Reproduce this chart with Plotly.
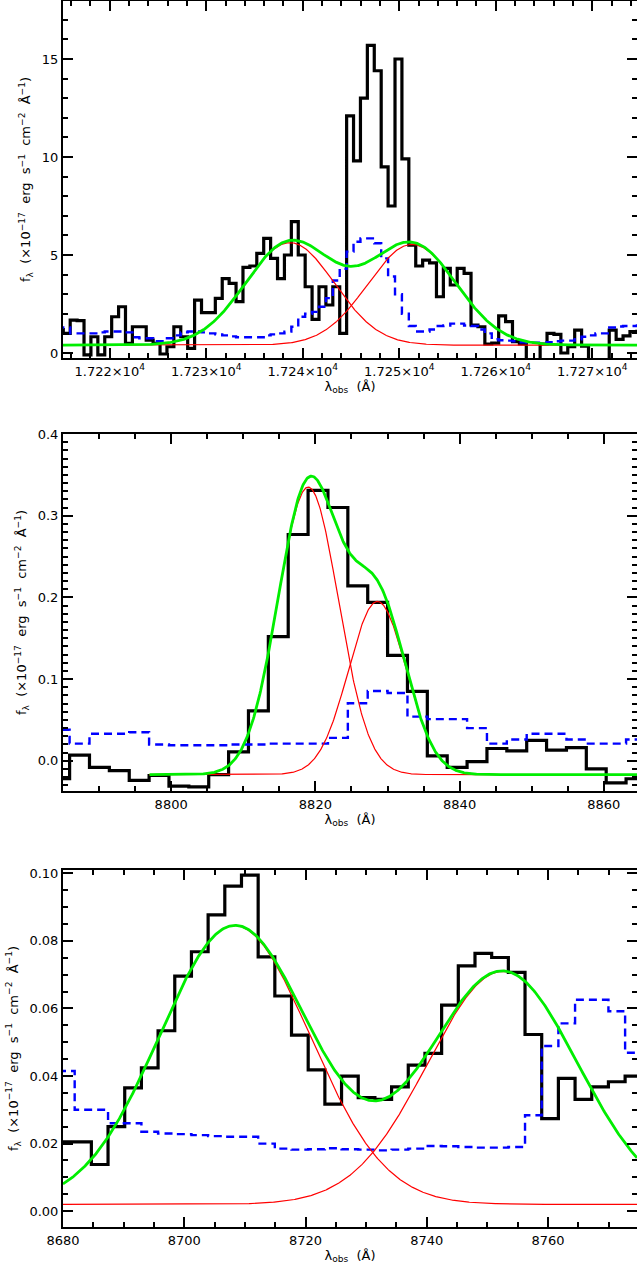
import numpy as np
import plotly.graph_objects as go

# ---------------- Panel 1 (around 1.724e4 A) ----------------
# pixel grid: left edge of first pixel and pixel width (Angstrom)
lam1_start, lam1_step = 17214.474, 0.716
flux1 = [1.2, 1.0, 1.68, 1.65, -0.1, 0.83, -0.1, 0.83, 1.85, 2.36,
         0.49, 1.34, 1.34, 0.66, 0.49, -0.05, 0.32, 1.34, 0.83, 0.24,
         2.7, 2.06, 2.06, 2.79, 3.8, 3.55, 2.62, 4.37, 4.44, 5.08,
         5.85, 4.83, 3.8, 5.0, 6.7, 5.0, 3.38, 1.72, 3.38, 2.45,
         3.38, 1.0, 12.1, 9.8, 13.0, 15.7, 14.4, 9.5, 7.5, 15.0,
         9.9, 5.5, 4.44, 4.74, 4.6, 2.87, 4.32, 3.47, 4.32, 4.06,
         1.43, 1.34, 0.46, 0.5, 1.89, 1.6, 0.58, 0.46, -0.5, -0.6,
         0.46, 1.0, 0.95, 0.0, 0.32, 1.17, 0.35, -0.4, -0.6, -0.5,
         1.17, 0.7, 0.87, 1.09, 1.1]
sky1 = [1.3, 1.3, 1.0, 1.0, 1.0, 1.0, 1.05, 1.1, 1.1, 1.1,
        1.05, 0.8, 0.75, 0.75, 0.6, 0.6, 0.75, 0.9, 1.05, 1.1,
        1.1, 1.05, 1.0, 0.95, 0.9, 0.85, 0.8, 0.8, 0.8, 0.8,
        0.9, 0.95, 1.0, 1.09, 1.34, 1.85, 2.0, 2.1, 2.36, 2.8,
        3.7, 4.3, 5.17, 5.68, 5.85, 5.85, 5.6, 4.83, 3.9, 3.0,
        2.0, 1.38, 1.1, 1.1, 1.2, 1.38, 1.4, 1.5, 1.5, 1.4,
        1.38, 1.2, 1.0, 0.7, 0.65, 0.63, 0.6, 0.55, 0.53, 0.53,
        0.53, 0.55, 0.6, 0.63, 0.63, 0.7, 0.83, 0.9, 1.0, 1.0,
        1.3, 1.35, 1.38, 1.38, 1.4]
fit1_cont = 0.4
fit1_center = [17238.67, 17251.33]
fit1_amp = [5.23, 5.14]
fit1_sigma = [4.6, 4.6]
x1_range = [17215.16, 17274.63]
y1_range = [-0.255, 17.96]
fit1_span = [17215.16, 17274.63]
x1_tickvals = [17220, 17230, 17240, 17250, 17260, 17270]
x1_ticktext = ["1.722×10<sup>4</sup>", "1.723×10<sup>4</sup>", "1.724×10<sup>4</sup>",
               "1.725×10<sup>4</sup>", "1.726×10<sup>4</sup>", "1.727×10<sup>4</sup>"]

# ---------------- Panel 2 (around 8820 A) ----------------
lam2_start, lam2_step = 8783.16, 2.756
flux2 = [-0.022, 0.007, -0.008, -0.012, -0.024, -0.018, -0.031, -0.032, -0.017, 0.011,
         0.061, 0.152, 0.277, 0.331, 0.310, 0.214, 0.194, 0.129, 0.085, 0.006,
         -0.008, -0.001, 0.015, 0.012, 0.025, 0.013, 0.016, -0.010, -0.027, -0.022]
sky2 = [0.038, 0.021, 0.033, 0.033, 0.035, 0.020, 0.019, 0.019, 0.019, 0.020,
        0.020, 0.021, 0.021, 0.021, 0.028, 0.0705, 0.0855, 0.083, 0.054, 0.051,
        0.051, 0.040, 0.021, 0.026, 0.033, 0.033, 0.026, 0.021, 0.021, 0.026]
fit2_cont = -0.017
fit2_center = [8819.0, 8828.6]
fit2_amp = [0.352, 0.212]
fit2_sigma = [4.2, 4.0]
x2_range = [8785.0, 8864.6]
y2_range = [-0.037, 0.4]
fit2_span = [8797.0, 8864.6]

# ---------------- Panel 3 (around 8730 A) ----------------
lam3_start, lam3_step = 8679.175, 2.751
flux3 = [0.0205, 0.0205, 0.0138, 0.025, 0.0365, 0.0424, 0.0534, 0.0696, 0.0768, 0.0877,
         0.0962, 0.0995, 0.0753, 0.0637, 0.0521, 0.0418, 0.0317, 0.040, 0.0336, 0.0331,
         0.0368, 0.0432, 0.0467, 0.061, 0.0726, 0.0763, 0.0751, 0.0707, 0.0523, 0.0274,
         0.0393, 0.0331, 0.0368, 0.0383, 0.040]
sky3 = [0.0415, 0.030, 0.030, 0.026, 0.026, 0.0235, 0.023, 0.0228, 0.0225, 0.0222,
        0.022, 0.022, 0.020, 0.0185, 0.0182, 0.0183, 0.0186, 0.0183, 0.0182, 0.0180,
        0.0182, 0.0185, 0.0193, 0.0192, 0.019, 0.0188, 0.0188, 0.019, 0.0284, 0.0489,
        0.0556, 0.0626, 0.0626, 0.0592, 0.0469]
fit3_cont = 0.002
fit3_center = [8708.33, 8752.51]
fit3_amp = [0.0825, 0.069]
fit3_sigma = [12.4, 12.35]
x3_range = [8680.0, 8774.67]
y3_range = [-0.0047, 0.101]
fit3_span = [8680.0, 8774.67]

# ---------------- figure ----------------
W, H = 637, 1270
fig = go.Figure()

FONT = "DejaVu Sans"


def step_xy(start, step, vals):
    edges = [start + step * i for i in range(len(vals) + 1)]
    return edges, list(vals) + [vals[-1]]


def gauss(x, c, a, s):
    return a * np.exp(-0.5 * ((x - c) / s) ** 2)


panels = [
    (lam1_start, lam1_step, flux1, sky1, fit1_cont, fit1_center, fit1_amp, fit1_sigma, fit1_span),
    (lam2_start, lam2_step, flux2, sky2, fit2_cont, fit2_center, fit2_amp, fit2_sigma, fit2_span),
    (lam3_start, lam3_step, flux3, sky3, fit3_cont, fit3_center, fit3_amp, fit3_sigma, fit3_span),
]

for i, (ls, st, fl, sk, cont, cen, amp, sig, span) in enumerate(panels):
    xa = "x" if i == 0 else f"x{i+1}"
    ya = "y" if i == 0 else f"y{i+1}"
    ex, ey = step_xy(ls, st, fl)
    fig.add_trace(go.Scatter(x=ex, y=ey, mode="lines", line=dict(color="black", width=3.2, shape="hv"),
                             xaxis=xa, yaxis=ya, showlegend=False))
    ex, ey = step_xy(ls, st, sk)
    fig.add_trace(go.Scatter(x=ex, y=ey, mode="lines",
                             line=dict(color="#0000ff", width=2.4, shape="hv", dash="8px,5px"),
                             xaxis=xa, yaxis=ya, showlegend=False))
    xm = np.linspace(span[0], span[1], 800)
    total = np.full_like(xm, cont)
    for c, a, s in zip(cen, amp, sig):
        g = gauss(xm, c, a, s)
        total = total + g
        fig.add_trace(go.Scatter(x=xm, y=cont + g, mode="lines", line=dict(color="#ff0000", width=1.2),
                                 xaxis=xa, yaxis=ya, showlegend=False))
    fig.add_trace(go.Scatter(x=xm, y=total, mode="lines", line=dict(color="#00ee00", width=2.8),
                             xaxis=xa, yaxis=ya, showlegend=False))

xdom = [63 / W, 1.0]
ydoms = [[1 - 358 / H, 1 - 1 / H], [1 - 791 / H, 1 - 434 / H], [1 - 1227 / H, 1 - 870 / H]]

ytitle = ("f<sub>λ</sub>  (×10<sup>−17</sup>  erg  s<sup>−1</sup>  cm<sup>−2</sup>  Å<sup>−1</sup>)")
xtitle = "λ<sub>obs</sub>  (Å)"


def axstyle(**kw):
    d = dict(showline=True, linecolor="black", linewidth=2, mirror="allticks",
             ticks="inside", ticklen=10, tickwidth=1.5, tickcolor="black",
             showgrid=False, zeroline=False, automargin=False,
             tickfont=dict(family=FONT, size=13, color="black"),
             minor=dict(ticks="inside", ticklen=5, tickwidth=1.5, tickcolor="black", showgrid=False))
    d.update(kw)
    return d


xr = [x1_range, x2_range, x3_range]
yr = [y1_range, y2_range, y3_range]
xminor = [2, 5, 5]
ymaj = [5, 0.1, 0.02]
ymin = [1, 0.01, 0.005]
yfmt = ["d", ".1f", ".2f"]
xdt = [10, 20, 20]

layout = dict(width=W, height=H, margin=dict(l=0, r=0, t=0, b=0, pad=0, autoexpand=False),
              paper_bgcolor="white", plot_bgcolor="white",
              font=dict(family=FONT, size=13, color="black"))

for i in range(3):
    xk = "xaxis" if i == 0 else f"xaxis{i+1}"
    yk = "yaxis" if i == 0 else f"yaxis{i+1}"
    ya = "y" if i == 0 else f"y{i+1}"
    xa = "x" if i == 0 else f"x{i+1}"
    xs = axstyle(domain=xdom, range=xr[i], anchor=ya,
                 title=dict(text=xtitle, font=dict(family=FONT, size=13), standoff=4))
    xs["minor"]["dtick"] = xminor[i]
    if i == 0:
        xs.update(tickmode="array", tickvals=x1_tickvals, ticktext=x1_ticktext)
        xs["minor"]["tick0"] = 17220
    else:
        xs.update(dtick=xdt[i], tick0=8680)
        xs["minor"]["tick0"] = 8680
    ys = axstyle(domain=ydoms[i], range=yr[i], anchor=xa, dtick=ymaj[i], tick0=0,
                 tickformat=yfmt[i],
                 title=dict(text=ytitle, font=dict(family=FONT, size=13), standoff=8))
    ys["minor"]["dtick"] = ymin[i]
    ys["minor"]["tick0"] = 0
    layout[xk] = xs
    layout[yk] = ys

fig.update_layout(**layout)
fig.write_html("out.html", config={"displayModeBar": False},
               post_script="document.body.style.margin='0';document.body.style.overflow='hidden';")
